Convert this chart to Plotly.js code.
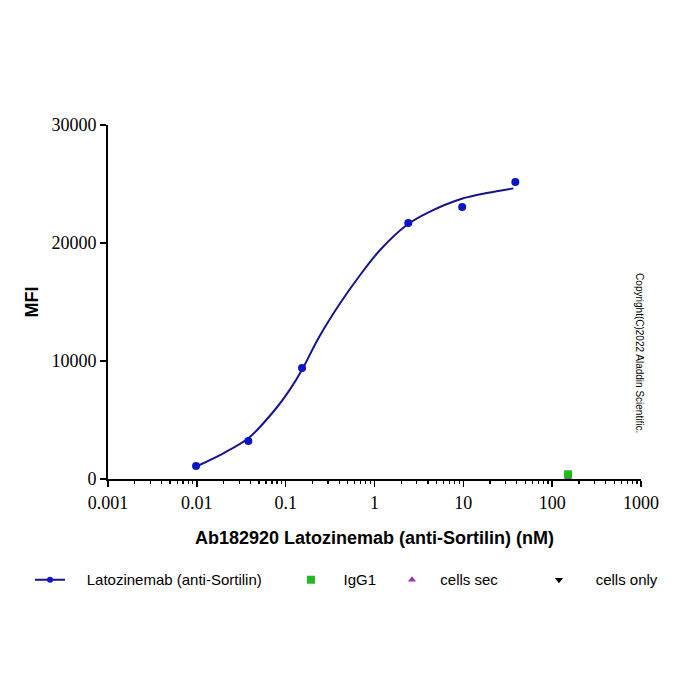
<!DOCTYPE html>
<html>
<head>
<meta charset="utf-8">
<script src="https://cdn.plot.ly/plotly-3.0.1.min.js"></script>
<style>html,body{margin:0;padding:0;background:#fff;}#chart{width:700px;height:700px;}</style>
</head>
<body>
<div id="chart"></div>
<script>
// Measured points (nM, MFI)
var latoConc = [0.0098, 0.038, 0.153, 2.4, 9.7, 38.5];
var latoMFI = [1100, 3220, 9400, 21700, 23050, 25170];
// Fitted curve
var fitConc = [0.00997, 0.0199, 0.038, 0.0726, 0.112, 0.154, 0.2345, 0.41, 0.689, 1.156, 2.31, 4.05, 9.6, 19, 36.6];
var fitMFI = [1080, 2180, 3450, 5700, 7600, 9300, 11950, 14890, 17290, 19410, 21530, 22600, 23750, 24250, 24630];
// Controls
var igg1Conc = [151];
var igg1MFI = [400];
var cellsSecConc = [151];
var cellsSecMFI = [120];
var cellsOnlyConc = [151];
var cellsOnlyMFI = [80];
var xTickVals = [0.001, 0.01, 0.1, 1, 10, 100, 1000];
var xTickText = ['0.001', '0.01', '0.1', '1', '10', '100', '1000'];
var yTickVals = [0, 10000, 20000, 30000];
var yTickText = ['0', '10000', '20000', '30000'];

var legFont = {family: 'Liberation Sans, Arial, sans-serif', size: 15, color: '#000'};
var sp = '\u00a0';
var traces = [
  {x: fitConc, y: fitMFI, mode: 'lines', line: {color: '#14148c', width: 2, shape: 'spline', smoothing: 0.8}, showlegend: false, hoverinfo: 'skip'},
  {x: latoConc, y: latoMFI, mode: 'markers', name: 'Latozinemab (anti-Sortilin)',
   marker: {color: '#0a14c8', size: 8, symbol: 'circle'}, showlegend: false},
  {x: cellsOnlyConc, y: cellsOnlyMFI, mode: 'markers', name: sp + sp + sp + sp + 'cells only',
   marker: {color: '#000', size: 7, symbol: 'triangle-down'}, legend: 'legend4'},
  {x: cellsSecConc, y: cellsSecMFI, mode: 'markers', name: sp + sp + 'cells sec',
   marker: {color: '#9b30b0', size: 7, symbol: 'triangle-up'}, legend: 'legend3'},
  {x: igg1Conc, y: igg1MFI, mode: 'markers', name: sp + sp + sp + 'IgG1',
   marker: {color: '#22b822', size: 8, symbol: 'square'}, legend: 'legend2'},
  {x: [null], y: [null], mode: 'lines+markers', name: sp + sp + sp + sp + 'Latozinemab (anti-Sortilin)',
   line: {color: '#14148c', width: 2}, marker: {color: '#0a14c8', size: 6}, legend: 'legend'}
];

function leg(xp) {
  return {x: xp, xref: 'paper', y: -0.285, yref: 'paper', xanchor: 'left', yanchor: 'middle',
          orientation: 'h', font: legFont, bgcolor: 'rgba(0,0,0,0)', borderwidth: 0, itemwidth: 30};
}

var layout = {
  width: 700, height: 700,
  margin: {l: 108, r: 59, t: 125, b: 221},
  paper_bgcolor: '#fff', plot_bgcolor: '#fff',
  font: {family: 'Liberation Sans, Arial, sans-serif', color: '#000'},
  xaxis: {
    type: 'log', range: [-3, 3], tickmode: 'array', tickvals: xTickVals, ticktext: xTickText,
    ticks: 'outside', ticklen: 6, tickwidth: 1.5, tickcolor: '#000',
    minor: {dtick: 'D1', ticks: 'outside', ticklen: 3, tickwidth: 1.2, tickcolor: '#000', showgrid: false},
    showline: true, linecolor: '#000', linewidth: 2, showgrid: false, zeroline: false,
    tickfont: {family: 'Liberation Serif, Times New Roman, serif', size: 18, color: '#000'},
    title: {text: 'Ab182920 Latozinemab (anti-Sortilin) (nM)', standoff: 20,
            font: {family: 'Liberation Sans, Arial, sans-serif', size: 18, color: '#000', weight: 'bold'}}
  },
  yaxis: {
    range: [0, 30000], tickmode: 'array', tickvals: yTickVals, ticktext: yTickText,
    ticks: 'outside', ticklen: 6, tickwidth: 1.5, tickcolor: '#000',
    showline: true, linecolor: '#000', linewidth: 2, showgrid: false, zeroline: false,
    tickfont: {family: 'Liberation Serif, Times New Roman, serif', size: 18, color: '#000'},
    title: {text: 'MFI', standoff: 8,
            font: {family: 'Liberation Sans, Arial, sans-serif', size: 18, color: '#000', weight: 'bold'}}
  },
  legend: leg(-0.1463),
  legend2: leg(0.3433),
  legend3: leg(0.5328),
  legend4: leg(0.8086),
  annotations: [{
    text: 'Copyright(C)2022 Aladdin Scientific.', textangle: 90, showarrow: false,
    xref: 'paper', yref: 'paper', x: 0.996, y: 0.356, xanchor: 'center', yanchor: 'middle',
    font: {family: 'Liberation Sans, Arial, sans-serif', size: 10, color: '#000'}
  }]
};
Plotly.newPlot('chart', traces, layout, {displayModeBar: false, staticPlot: true});
</script>
</body>
</html>
